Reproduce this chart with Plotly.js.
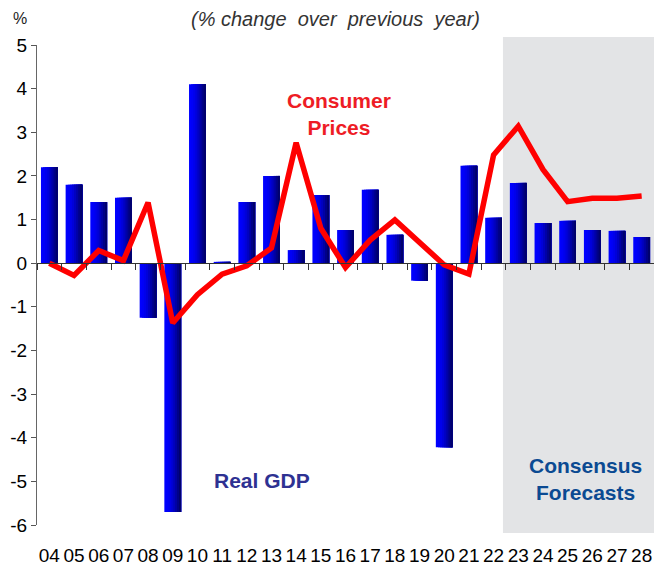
<!DOCTYPE html>
<html>
<head>
<meta charset="utf-8">
<script src="https://cdn.plot.ly/plotly-3.0.1.min.js"></script>
<style>html,body{margin:0;padding:0;background:#fff;}#chart{width:654px;height:566px;}</style>
</head>
<body>
<div id="chart"></div>
<script>
const years = ["04","05","06","07","08","09","10","11","12","13","14","15","16","17","18","19","20","21","22","23","24","25","26","27","28"];
const realGDP = [2.2,1.8,1.4,1.5,-1.25,-5.7,4.1,0.03,1.4,2.0,0.3,1.56,0.76,1.68,0.65,-0.4,-4.22,2.23,1.04,1.84,0.92,0.97,0.76,0.74,0.6];
const consumerPrices = [0.0,-0.28,0.29,0.06,1.39,-1.37,-0.72,-0.25,-0.06,0.35,2.76,0.8,-0.1,0.53,0.99,0.46,-0.04,-0.25,2.48,3.14,2.15,1.41,1.49,1.49,1.54];
const yTickValues = [-6,-5,-4,-3,-2,-1,0,1,2,3,4,5];
const yTickLabels = ["-6","-5","-4","-3","-2","-1","0","1","2","3","4","5"];
const forecastStart = "23";

// gradient emulation for bars: overlaid bars anchored at the right edge,
// each narrower and darker than the previous one (no gaps between them)
const barWidth = 0.68;
const stripColors = ['#0000ff','#0000f8','#0000ec','#0000da','#0000c2','#0000a6','#000088','#00006c'];
const traces = [];
const n = stripColors.length;
stripColors.forEach((c, i) => {
  const w = barWidth * (n - i) / n;
  traces.push({
    type: 'bar', x: years, y: realGDP, xaxis: 'x', yaxis: 'y',
    width: w, offset: barWidth / 2 - w,
    marker: {color: c, line: {width: 0}},
    hoverinfo: 'skip', showlegend: false
  });
});
traces.push({
  type: 'scatter', mode: 'lines', x: years, y: consumerPrices, xaxis: 'x2', yaxis: 'y',
  line: {color: '#ff0000', width: 5.5}, showlegend: false, hoverinfo: 'skip'
});

const fsIdx = years.indexOf(forecastStart);
const plotL = 37, plotW = 617, plotB = 525, plotH = 480;
const px = v => (v - plotL) / plotW;
const py = v => (plotB - v) / plotH;

const layout = {
  width: 654, height: 566,
  margin: {l: 37, r: 0, t: 45, b: 41, pad: 0},
  paper_bgcolor: '#ffffff', plot_bgcolor: 'rgba(0,0,0,0)',
  barmode: 'overlay',
  font: {family: 'Arial, "Liberation Sans", sans-serif', color: '#000'},
  xaxis: {
    type: 'category', range: [-0.5, years.length - 0.5],
    showline: false, ticks: '', showgrid: false, zeroline: false,
    tickfont: {size: 19, color: '#000'}, ticklabelstandoff: 17, fixedrange: true
  },
  xaxis2: {
    type: 'category', overlaying: 'x', anchor: 'free', position: 6 / 11,
    range: [-0.5, years.length - 0.5], tickson: 'boundaries',
    ticks: 'outside', ticklen: 6, tickcolor: '#333', tickwidth: 1,
    showline: true, linecolor: '#333', linewidth: 1,
    showticklabels: false, showgrid: false, zeroline: false, fixedrange: true
  },
  yaxis: {
    range: [-6, 5], tickmode: 'array', tickvals: yTickValues, ticktext: yTickLabels,
    ticks: 'outside', ticklen: 5, tickcolor: '#555',
    showline: true, linecolor: '#666', linewidth: 1,
    showgrid: false, zeroline: false,
    tickfont: {size: 19, color: '#000'}, fixedrange: true
  },
  shapes: [{
    type: 'rect', layer: 'below', xref: 'x', yref: 'paper',
    x0: fsIdx - 0.62, x1: years.length - 0.5, y0: -8 / plotH, y1: 1 + 8 / plotH,
    fillcolor: '#e3e4e6', line: {width: 0}
  }],
  annotations: [
    {text: '%', xref: 'paper', yref: 'paper', x: px(20), y: py(18), showarrow: false,
     font: {size: 16, color: '#222'}, xanchor: 'center', yanchor: 'middle'},
    {text: '<i>(% change  over  previous  year)</i>', xref: 'paper', yref: 'paper', x: px(335), y: py(19), showarrow: false,
     font: {size: 20, color: '#333'}, xanchor: 'center', yanchor: 'middle'},
    {text: '<b>Consumer<br>Prices</b>', xref: 'paper', yref: 'paper', x: px(339), y: py(114), showarrow: false,
     font: {size: 21, color: '#ee1c25'}, xanchor: 'center', yanchor: 'middle'},
    {text: '<b>Real GDP</b>', xref: 'paper', yref: 'paper', x: px(262), y: py(480), showarrow: false,
     font: {size: 21, color: '#2e3192'}, xanchor: 'center', yanchor: 'middle'},
    {text: '<b>Consensus<br>Forecasts</b>', xref: 'paper', yref: 'paper', x: px(585), y: py(479), showarrow: false,
     font: {size: 21, color: '#0b4a92'}, xanchor: 'center', yanchor: 'middle'}
  ]
};

Plotly.newPlot('chart', traces, layout, {displayModeBar: false, staticPlot: true});
</script>
</body>
</html>
